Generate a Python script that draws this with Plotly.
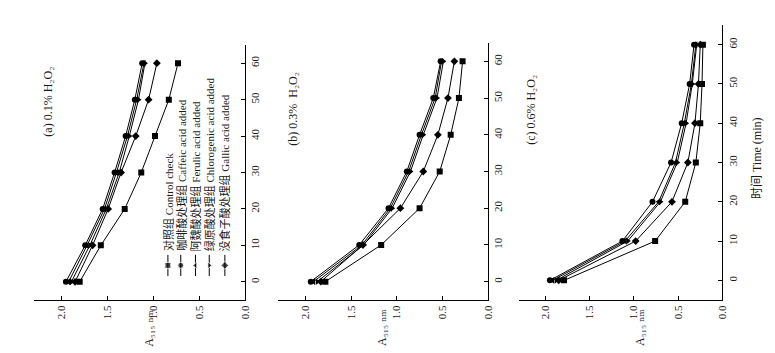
import plotly.graph_objects as go

# ---------------- data ----------------
time_min = [0, 10, 20, 30, 40, 50, 60]
time_ticks = [0, 10, 20, 30, 40, 50, 60]
abs_ticks = [0.0, 0.5, 1.0, 1.5, 2.0]
abs_ticklabels = ["0.0", "0.5", "1.0", "1.5", "2.0"]

series_names = [
    "对照组 Control check",
    "咖啡酸处理组 Caffeic acid added",
    "阿魏酸处理组 Ferulic acid added",
    "绿原酸处理组 Chlorogenic acid added",
    "没食子酸处理组 Gallic acid added",
]
panel_titles = [
    "(a) 0.1% H\u2082O\u2082",
    "(b) 0.3%  H\u2082O\u2082",
    "(c) 0.6% H\u2082O\u2082",
]
abs_title = "A\u2085\u2081\u2085 \u2099\u2098"
time_title = "时间 Time (min)"

# panel (a) 0.1% H2O2
a_control = [1.80, 1.57, 1.31, 1.13, 0.98, 0.83, 0.73]
a_caffeic = [1.95, 1.74, 1.55, 1.42, 1.30, 1.20, 1.12]
a_ferulic = [1.92, 1.72, 1.53, 1.40, 1.28, 1.18, 1.10]
a_chlorogenic = [1.89, 1.69, 1.51, 1.37, 1.26, 1.16, 1.09]
a_gallic = [1.85, 1.66, 1.49, 1.35, 1.19, 1.05, 0.96]

# panel (b) 0.3% H2O2
b_control = [1.78, 1.17, 0.75, 0.53, 0.41, 0.32, 0.28]
b_caffeic = [1.94, 1.41, 1.09, 0.89, 0.75, 0.60, 0.52]
b_ferulic = [1.91, 1.38, 1.07, 0.87, 0.73, 0.58, 0.51]
b_chlorogenic = [1.87, 1.36, 1.05, 0.85, 0.71, 0.56, 0.49]
b_gallic = [1.83, 1.37, 0.96, 0.71, 0.55, 0.44, 0.37]

# panel (c) 0.6% H2O2
c_control = [1.79, 0.76, 0.42, 0.30, 0.25, 0.23, 0.22]
c_caffeic = [1.95, 1.13, 0.79, 0.58, 0.46, 0.37, 0.32]
c_ferulic = [1.92, 1.10, 0.72, 0.53, 0.43, 0.35, 0.30]
c_chlorogenic = [1.88, 1.07, 0.70, 0.51, 0.41, 0.34, 0.29]
c_gallic = [1.85, 0.98, 0.57, 0.39, 0.31, 0.27, 0.25]

panels = [
    [a_control, a_caffeic, a_ferulic, a_chlorogenic, a_gallic],
    [b_control, b_caffeic, b_ferulic, b_chlorogenic, b_gallic],
    [c_control, c_caffeic, c_ferulic, c_chlorogenic, c_gallic],
]

# ---------------- style / layout ----------------
W, H = 775, 353
symbols = ["square", "circle", "triangle-left", "triangle-right", "diamond"]
SERIF = "Liberation Serif, Times New Roman, Noto Sans CJK SC, DejaVu Serif, serif"
TXT = "#1a1a1a"

# pixel boxes of panels: (left, right, top, bottom)
boxes = [(34, 247, 45, 300), (280, 492, 43, 300), (523, 728, 25, 300)]
title_pos = [(48, 102), (295, 109), (535, 110)]
abs_title_x = [150, 385, 645]

fig = go.Figure()

for p, series in enumerate(panels):
    xa = "x" if p == 0 else f"x{p+1}"
    ya = "y" if p == 0 else f"y{p+1}"
    for s, vals in enumerate(series):
        fig.add_trace(go.Scatter(
            x=vals, y=time_min, xaxis=xa, yaxis=ya,
            mode="lines+markers",
            line=dict(color="black", width=1),
            marker=dict(symbol=symbols[s], size=6, color="black"),
            showlegend=False, hoverinfo="skip",
        ))

# legend (rotated) in panel (a)
legend_cols = [0.84, 0.70, 0.54, 0.39, 0.22]
for s, name in enumerate(series_names):
    fig.add_trace(go.Scatter(
        x=[legend_cols[s]] * 3, y=[1.6, 4.5, 7.4], xaxis="x", yaxis="y",
        mode="lines+markers",
        line=dict(color="black", width=1),
        marker=dict(symbol=symbols[s], size=[0, 6, 0], color="black"),
        showlegend=False, hoverinfo="skip",
    ))

annotations = []
for s, name in enumerate(series_names):
    annotations.append(dict(
        x=legend_cols[s], y=7.9, xref="x", yref="y", text=name,
        textangle=-90, showarrow=False, xanchor="center", yanchor="bottom",
        font=dict(family=SERIF, size=11, color=TXT),
    ))

layout_axes = {}
for p, (l, r, t, b) in enumerate(boxes):
    sx = "" if p == 0 else str(p + 1)
    layout_axes[f"xaxis{sx}"] = dict(
        domain=[l / W, r / W], anchor=f"y{sx}", range=[2.3, 0],
        tickvals=abs_ticks, ticktext=abs_ticklabels, tickangle=-90,
        ticks="inside", ticklen=4, tickwidth=1, tickcolor="black",
        showline=True, linecolor="black", linewidth=1, showgrid=False,
        zeroline=False, side="bottom",
        tickfont=dict(family=SERIF, size=11, color=TXT),
    )
    layout_axes[f"yaxis{sx}"] = dict(
        domain=[1 - b / H, 1 - t / H], anchor=f"x{sx}", range=[-5, 65],
        tickvals=time_ticks, tickangle=-90, side="right",
        ticks="inside", ticklen=4, tickwidth=1, tickcolor="black",
        showline=True, linecolor="black", linewidth=1, showgrid=False,
        zeroline=False,
        tickfont=dict(family=SERIF, size=11, color=TXT),
    )
    tx, ty = title_pos[p]
    annotations.append(dict(
        x=tx / W, y=1 - ty / H, xref="paper", yref="paper",
        text=panel_titles[p], textangle=-90, showarrow=False,
        xanchor="center", yanchor="middle",
        font=dict(family=SERIF, size=12, color=TXT),
    ))
    annotations.append(dict(
        x=abs_title_x[p] / W, y=1 - 328 / H, xref="paper", yref="paper",
        text=abs_title, textangle=-90, showarrow=False,
        xanchor="center", yanchor="middle",
        font=dict(family=SERIF, size=12, color=TXT),
    ))

annotations.append(dict(
    x=763 / W, y=1 - 158 / H, xref="paper", yref="paper",
    text=time_title, textangle=-90, showarrow=False,
    xanchor="center", yanchor="middle",
    font=dict(family=SERIF, size=12, color=TXT),
))

fig.update_layout(
    width=W, height=H, margin=dict(l=0, r=0, t=0, b=0),
    paper_bgcolor="white", plot_bgcolor="white",
    annotations=annotations, showlegend=False,
    **layout_axes,
)

fig.write_html("out.html")
